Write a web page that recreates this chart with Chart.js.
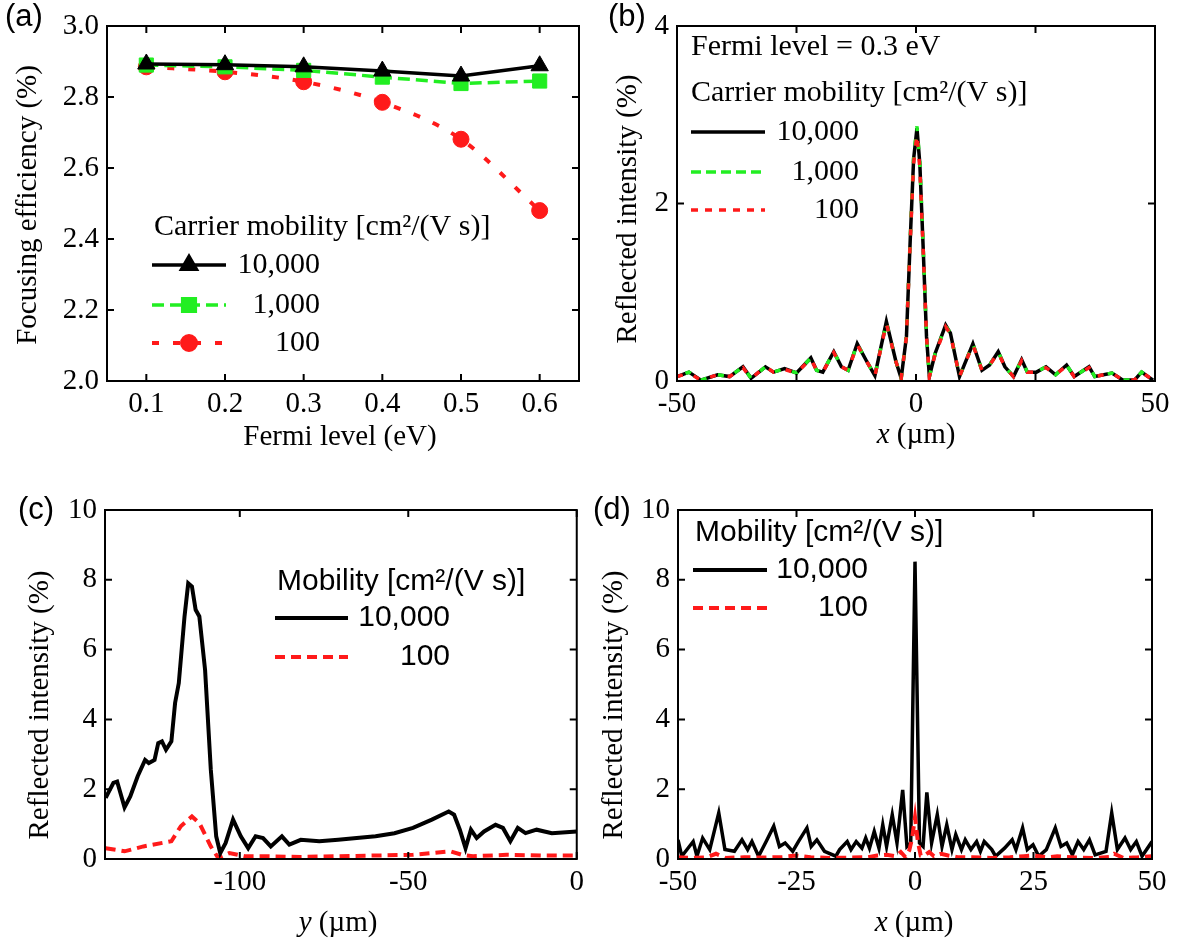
<!DOCTYPE html>
<html>
<head>
<meta charset="utf-8">
<script src="https://cdn.jsdelivr.net/npm/chart.js@4.4.1/dist/chart.umd.min.js"></script>
<style>
    html, body { margin: 0; padding: 0; background: #fff; }
    #page { position: relative; width: 1179px; height: 947px; overflow: hidden; }
    canvas { position: absolute; }
</style>
</head>
<body>
<div id="page">
    <canvas id="chartA" width="590" height="470" style="left:0;top:0"></canvas>
    <canvas id="chartB" width="589" height="470" style="left:590px;top:0"></canvas>
    <canvas id="chartC" width="590" height="477" style="left:0;top:470px"></canvas>
    <canvas id="chartD" width="589" height="477" style="left:590px;top:470px"></canvas>
</div>
<script>
// --- (a) focusing efficiency vs Fermi level ---
const fermiLevels = [0.1, 0.2, 0.3, 0.4, 0.5, 0.6];
const effMu10000 = [2.893, 2.891, 2.885, 2.873, 2.859, 2.888];
const effMu1000 = [2.890, 2.885, 2.875, 2.856, 2.838, 2.845];
const effMu100 = [2.885, 2.871, 2.843, 2.785, 2.681, 2.480];
const fermiTicks = [0.1, 0.2, 0.3, 0.4, 0.5, 0.6];
const effTicks = [2.0, 2.2, 2.4, 2.6, 2.8, 3.0];

// --- (b) reflected intensity along x, Fermi level 0.3 eV ---
const xB = [-50, -47.5, -45, -41.5, -39, -36.2, -34.5, -31.5, -29.8, -27.5, -25, -22, -20.8, -19.5, -17.2, -15.6, -14.2, -12.3, -10.3, -8.6,
    -6.2, -4.2, -3.1, -2.0, -1.2, -0.5, 0.2, 0.8, 1.5, 2.2, 2.8, 4.0, 6.2, 7.2, 9.1, 11.9, 13.8, 15.4, 17.2, 18.6,
    20.4, 22.1, 23.3, 25.2, 27.2, 29.2, 31.5, 33.1, 36.2, 37.4, 41, 43.3, 45.7, 47.2, 49.6];
const bMu10000 = [0.05, 0.10, 0.01, 0.07, 0.05, 0.16, 0.03, 0.16, 0.10, 0.14, 0.09, 0.26, 0.12, 0.10, 0.33, 0.16, 0.12, 0.42, 0.22, 0.06,
    0.67, 0.22, 0.03, 0.50, 1.60, 2.50, 2.85, 2.45, 1.50, 0.50, 0.05, 0.31, 0.63, 0.54, 0.05, 0.42, 0.12, 0.18, 0.33, 0.16,
    0.05, 0.24, 0.10, 0.10, 0.16, 0.07, 0.18, 0.05, 0.16, 0.05, 0.09, 0.01, 0.01, 0.10, 0.01];
const bMu1000 = [0.05, 0.10, 0.01, 0.07, 0.05, 0.16, 0.03, 0.16, 0.10, 0.14, 0.09, 0.26, 0.12, 0.10, 0.33, 0.16, 0.12, 0.42, 0.22, 0.06,
    0.66, 0.22, 0.03, 0.52, 1.62, 2.52, 2.87, 2.47, 1.52, 0.50, 0.05, 0.31, 0.62, 0.54, 0.05, 0.42, 0.12, 0.18, 0.33, 0.16,
    0.05, 0.24, 0.10, 0.10, 0.16, 0.07, 0.18, 0.05, 0.16, 0.05, 0.09, 0.01, 0.01, 0.10, 0.01];
const bMu100 = [0.05, 0.09, 0.01, 0.07, 0.05, 0.15, 0.03, 0.16, 0.10, 0.13, 0.09, 0.25, 0.12, 0.10, 0.32, 0.16, 0.12, 0.41, 0.22, 0.06,
    0.65, 0.22, 0.03, 0.50, 1.58, 2.45, 2.78, 2.40, 1.48, 0.50, 0.05, 0.30, 0.61, 0.53, 0.05, 0.41, 0.12, 0.18, 0.32, 0.16,
    0.05, 0.23, 0.10, 0.10, 0.15, 0.07, 0.17, 0.05, 0.15, 0.05, 0.09, 0.01, 0.01, 0.10, 0.01];
const xTicksB = [-50, -25, 0, 25, 50];
const xLabelsB = ['-50', '', '0', '', '50'];
const yTicksB = [0, 2, 4];

// --- (c) reflected intensity along y ---
const xC = [-139.8, -137.5, -136.4, -134.2, -132.5, -130.3, -128.1, -127, -125.3, -124.2, -123.1, -121.9, -120.3, -119.2, -118.1, -116.4,
    -115.3, -114.2, -113.1, -112, -110.3, -108.6, -107, -105.8, -104.2, -102, -99.7, -97.5, -95.3, -93.1, -90.8, -87.5, -85.3, -81.9,
    -76.4, -70.8, -65.3, -59.7, -54.1, -48.6, -43, -38, -36.4, -34.7, -33, -31.4, -29.7, -27.5, -24.1, -21.9, -19.7, -17.5, -15.2, -11.9, -7.4, 0];
const cMu10000 = [1.75, 2.18, 2.22, 1.48, 1.79, 2.37, 2.84, 2.75, 2.84, 3.32, 3.37, 3.13, 3.37, 4.47, 5.04, 6.95,
    7.90, 7.81, 7.14, 6.95, 5.42, 2.56, 0.65, 0.17, 0.46, 1.13, 0.65, 0.31, 0.65, 0.60, 0.36, 0.65, 0.41, 0.55,
    0.51, 0.55, 0.60, 0.65, 0.74, 0.89, 1.13, 1.36, 1.27, 0.84, 0.31, 0.84, 0.60, 0.79, 0.98, 0.89, 0.51, 0.89, 0.74, 0.84, 0.74, 0.79];
const xC100 = [-139.8, -134.2, -128.6, -120.3, -117.5, -114.2, -112, -108.6, -106.4, -103.1, -98.6, -93.1, -81.9, -70.8, -59.7, -48.6,
    -37.5, -34.1, -30.8, -20.8, -9.7, 0];
const cMu100 = [0.31, 0.22, 0.36, 0.51, 0.94, 1.22, 1.03, 0.36, 0.03, 0.17, 0.08, 0.08, 0.06, 0.08, 0.10, 0.12,
    0.22, 0.12, 0.08, 0.12, 0.10, 0.10];
const xTicksC = [-100, -50, 0];
const yTicksCD = [0, 2, 4, 6, 8, 10];

// --- (d) reflected intensity along x ---
const xD = [-50, -49.2, -46.8, -46, -44.8, -43.3, -41.4, -40.1, -38.1, -36.5, -35.3, -34.4, -33, -31.4, -29.8, -28.6, -27.4, -25.8, -24.6, -22.8,
    -21.9, -20.7, -19.1, -16.7, -15.9, -14.3, -13.5, -12.4, -11.2, -10.4, -9.6, -8.6, -7.6, -6.8, -6, -4.8, -3.8, -2.6, -1.7, -0.9,
    0, 0.95, 1.7, 2.5, 3.5, 4.7, 5.7, 6.7, 7.8, 8.6, 9.8, 10.6, 11.8, 13, 13.8, 14.6, 16.2, 17, 18.9, 20.5,
    21.3, 22.7, 23.7, 24.9, 26.1, 27.7, 29.6, 30.8, 32, 33.2, 34.4, 35.6, 36.8, 38, 40.3, 41.5, 42.7, 44.3, 45.5, 46.7, 47.9, 50];
const dMu10000 = [0.55, 0.08, 0.50, 0.08, 0.60, 0.27, 1.32, 0.27, 0.22, 0.55, 0.27, 0.50, 0.08, 0.50, 0.94, 0.36, 0.46, 0.22, 0.50, 0.89,
    0.36, 0.55, 0.22, 0.08, 0.27, 0.50, 0.27, 0.50, 0.31, 0.60, 0.31, 0.79, 0.31, 0.98, 0.36, 1.27, 0.46, 1.98, 0.36, 0.46,
    8.52, 0.46, 0.36, 1.91, 0.46, 1.27, 0.36, 0.98, 0.27, 0.70, 0.27, 0.55, 0.27, 0.50, 0.22, 0.50, 0.27, 0.08, 0.31, 0.55,
    0.27, 0.89, 0.27, 0.41, 0.08, 0.27, 0.89, 0.36, 0.46, 0.12, 0.50, 0.27, 0.55, 0.12, 0.22, 1.32, 0.27, 0.60, 0.27, 0.50, 0.08, 0.50];
const xD100 = [-50, -47, -44, -42, -40, -36, -32, -28, -25, -22, -18, -14, -10, -8, -6, -4, -3, -2, -1.2, -0.6,
    0, 0.6, 1.2, 2, 3, 4, 5.5, 7, 9, 12, 16, 20, 23, 25, 28, 30, 34, 38, 41, 42, 44, 47, 50];
const dMu100 = [0.05, 0.03, 0.05, 0.15, 0.03, 0.05, 0.04, 0.06, 0.10, 0.05, 0.03, 0.04, 0.05, 0.10, 0.12, 0.08, 0.20, 0.05, 0.25, 0.60,
    1.20, 0.50, 0.10, 0.10, 0.20, 0.08, 0.15, 0.10, 0.05, 0.05, 0.03, 0.05, 0.08, 0.10, 0.05, 0.08, 0.04, 0.03, 0.06, 0.15, 0.03, 0.05, 0.08];
const xTicksD = [-50, -25, 0, 25, 50];

const SERIF = '"Liberation Serif", "Times New Roman", serif';
const SANS = '"Liberation Sans", Arial, sans-serif';
const GREEN = '#22ee22';
const RED = '#ff1a1a';

Chart.defaults.font.family = SERIF;
Chart.defaults.color = '#000';

const pts = (xs, ys) => xs.map((x, i) => ({ x: x, y: ys[i] }));

function scaleOpts(min, max, tickList, fmt, fit, horizontal) {
    return {
        type: 'linear', min: min, max: max,
        grid: { display: false, drawTicks: false },
        border: { display: false },
        afterBuildTicks: s => { s.ticks = tickList.map(v => ({ value: v })); },
        afterFit: s => { if (horizontal) s.height = fit; else s.width = fit; },
        ticks: {
            font: { family: SERIF, size: 29 }, color: '#000',
            padding: horizontal ? 6 : 8, maxRotation: 0, autoSkip: false,
            callback: fmt
        }
    };
}

function richText(ctx, parts, font, cx, cy, rotate) {
    ctx.save();
    ctx.translate(cx, cy);
    if (rotate) ctx.rotate(-Math.PI / 2);
    ctx.textBaseline = 'middle';
    ctx.textAlign = 'left';
    let total = 0;
    const widths = parts.map(p => {
        ctx.font = (p.it ? 'italic ' : '') + font;
        const w = ctx.measureText(p.t).width;
        total += w;
        return w;
    });
    let xx = -total / 2;
    parts.forEach((p, i) => {
        ctx.font = (p.it ? 'italic ' : '') + font;
        ctx.fillText(p.t, xx, 0);
        xx += widths[i];
    });
    ctx.restore();
}

// frame with inward ticks, axis titles, panel tag and legend
function decor(cfg) {
    return {
        id: 'decor',
        afterDraw(chart) {
            const ctx = chart.ctx, a = chart.chartArea;
            const sx = chart.scales.x, sy = chart.scales.y;
            ctx.save();
            ctx.strokeStyle = '#000';
            ctx.lineWidth = 2;
            ctx.setLineDash([]);
            ctx.strokeRect(a.left, a.top, a.right - a.left, a.bottom - a.top);
            const t = 7;
            ctx.beginPath();
            sx.ticks.forEach(k => {
                const p = sx.getPixelForValue(k.value);
                ctx.moveTo(p, a.bottom); ctx.lineTo(p, a.bottom - t);
                ctx.moveTo(p, a.top); ctx.lineTo(p, a.top + t);
            });
            sy.ticks.forEach(k => {
                const p = sy.getPixelForValue(k.value);
                ctx.moveTo(a.left, p); ctx.lineTo(a.left + t, p);
                ctx.moveTo(a.right, p); ctx.lineTo(a.right - t, p);
            });
            ctx.stroke();

            ctx.fillStyle = '#000';
            const tf = '29px ' + SERIF;
            richText(ctx, cfg.xTitle, tf, cfg.xTitleAt[0], cfg.xTitleAt[1], false);
            richText(ctx, cfg.yTitle, tf, cfg.yTitleAt[0], cfg.yTitleAt[1], true);

            ctx.font = '31px ' + SANS;
            ctx.textAlign = 'left';
            ctx.textBaseline = 'middle';
            ctx.fillText(cfg.tag, cfg.tagAt[0], cfg.tagAt[1]);

            const lg = cfg.legend;
            ctx.font = lg.font;
            lg.heads.forEach(h => ctx.fillText(h.text, lg.left, h.y));
            lg.rows.forEach(r => {
                ctx.save();
                ctx.strokeStyle = r.color;
                ctx.lineWidth = r.width;
                ctx.setLineDash(r.dash || []);
                ctx.beginPath();
                ctx.moveTo(lg.x0, r.y);
                ctx.lineTo(lg.x1, r.y);
                ctx.stroke();
                ctx.restore();
                if (r.marker) {
                    ctx.fillStyle = r.color;
                    ctx.strokeStyle = r.color;
                    Chart.helpers.drawPoint(ctx, { pointStyle: r.marker, radius: r.radius, rotation: 0, borderWidth: 1 }, (lg.x0 + lg.x1) / 2, r.y);
                }
                ctx.fillStyle = '#000';
                ctx.font = lg.font;
                ctx.textAlign = 'right';
                ctx.fillText(r.label, lg.labelRight, r.y);
                ctx.textAlign = 'left';
            });
            ctx.restore();
        }
    };
}

const common = {
    responsive: false,
    animation: false,
    devicePixelRatio: 1,
    plugins: { legend: { display: false }, tooltip: { enabled: false } }
};

// (a)
new Chart(document.getElementById('chartA'), {
    type: 'line',
    data: {
        datasets: [
            { label: '10,000', data: pts(fermiLevels, effMu10000), borderColor: '#000', backgroundColor: '#000', borderWidth: 3.5,
              pointStyle: 'triangle', pointRadius: 10, pointBorderWidth: 1 },
            { label: '1,000', data: pts(fermiLevels, effMu1000), borderColor: GREEN, backgroundColor: GREEN, borderWidth: 3.5,
              borderDash: [12, 6], pointStyle: 'rect', pointRadius: 10, pointBorderWidth: 1 },
            { label: '100', data: pts(fermiLevels, effMu100), borderColor: RED, backgroundColor: RED, borderWidth: 4,
              borderDash: [7, 14], cubicInterpolationMode: 'monotone', pointStyle: 'circle', pointRadius: 8, pointBorderWidth: 1 }
        ]
    },
    options: Object.assign({}, common, {
        layout: { padding: { left: 0, top: 26, right: 4, bottom: 0 } },
        scales: {
            x: scaleOpts(0.05, 0.65, fermiTicks, v => v.toFixed(1), 89, true),
            y: scaleOpts(2.0, 3.0, effTicks, v => v.toFixed(1), 107, false)
        }
    }),
    plugins: [decor({
        xTitle: [{ t: 'Fermi level (eV)' }], xTitleAt: [340, 437],
        yTitle: [{ t: 'Focusing efficiency (%)' }], yTitleAt: [28, 205],
        tag: '(a)', tagAt: [5, 17],
        legend: {
            font: '30px ' + SERIF, left: 154, x0: 152, x1: 226, labelRight: 320,
            heads: [{ text: 'Carrier mobility [cm\u00B2/(V s)]', y: 227 }],
            rows: [
                { label: '10,000', y: 265, color: '#000', width: 3.5, marker: 'triangle', radius: 10 },
                { label: '1,000', y: 305, color: GREEN, width: 3.5, dash: [12, 6], marker: 'rect', radius: 10 },
                { label: '100', y: 343, color: RED, width: 4, dash: [7, 14], marker: 'circle', radius: 8 }
            ]
        }
    })]
});

// (b)
new Chart(document.getElementById('chartB'), {
    type: 'line',
    data: {
        datasets: [
            { label: '10,000', data: pts(xB, bMu10000), borderColor: '#000', borderWidth: 3.5, pointRadius: 0, order: 3 },
            { label: '1,000', data: pts(xB, bMu1000), borderColor: GREEN, borderWidth: 3.5, borderDash: [6, 12], borderDashOffset: 9, pointRadius: 0, order: 2 },
            { label: '100', data: pts(xB, bMu100), borderColor: RED, borderWidth: 3.5, borderDash: [6, 12], pointRadius: 0, order: 1 }
        ]
    },
    options: Object.assign({}, common, {
        layout: { padding: { left: 0, top: 26, right: 24, bottom: 0 } },
        scales: {
            x: scaleOpts(-50, 50, xTicksB, (v, i) => xLabelsB[i], 89, true),
            y: scaleOpts(0, 4, yTicksB, v => String(v), 87, false)
        }
    }),
    plugins: [decor({
        xTitle: [{ t: 'x', it: true }, { t: ' (\u00B5m)' }], xTitleAt: [326, 435],
        yTitle: [{ t: 'Reflected intensity (%)' }], yTitleAt: [38, 209],
        tag: '(b)', tagAt: [18, 17],
        legend: {
            font: '30px ' + SERIF, left: 101, x0: 101, x1: 175, labelRight: 269,
            heads: [{ text: 'Fermi level = 0.3 eV', y: 47 }, { text: 'Carrier mobility [cm\u00B2/(V s)]', y: 93 }],
            rows: [
                { label: '10,000', y: 132, color: '#000', width: 3.5 },
                { label: '1,000', y: 172, color: GREEN, width: 3.5, dash: [10, 5] },
                { label: '100', y: 210, color: RED, width: 3.5, dash: [7, 7] }
            ]
        }
    })]
});

// (c)
new Chart(document.getElementById('chartC'), {
    type: 'line',
    data: {
        datasets: [
            { label: '10,000', data: pts(xC, cMu10000), borderColor: '#000', borderWidth: 4, pointRadius: 0 },
            { label: '100', data: pts(xC100, cMu100), borderColor: RED, borderWidth: 4, borderDash: [10, 6], pointRadius: 0 }
        ]
    },
    options: Object.assign({}, common, {
        layout: { padding: { left: 0, top: 40, right: 11.5, bottom: 0 } },
        scales: {
            x: scaleOpts(-140, 0, xTicksC, v => String(v), 88, true),
            y: scaleOpts(0, 10, yTicksCD, v => String(v), 105, false)
        }
    }),
    plugins: [decor({
        xTitle: [{ t: 'y', it: true }, { t: ' (\u00B5m)' }], xTitleAt: [338, 453],
        yTitle: [{ t: 'Reflected intensity (%)' }], yTitleAt: [40, 235],
        tag: '(c)', tagAt: [18, 40],
        legend: {
            font: '30px ' + SANS, left: 277, x0: 275, x1: 348, labelRight: 450,
            heads: [{ text: 'Mobility [cm\u00B2/(V s)]', y: 112 }],
            rows: [
                { label: '10,000', y: 148, color: '#000', width: 4 },
                { label: '100', y: 187, color: RED, width: 4, dash: [10, 6] }
            ]
        }
    })]
});

// (d)
new Chart(document.getElementById('chartD'), {
    type: 'line',
    data: {
        datasets: [
            { label: '100', data: pts(xD100, dMu100), borderColor: RED, borderWidth: 4, borderDash: [10, 6], pointRadius: 0 },
            { label: '10,000', data: pts(xD, dMu10000), borderColor: '#000', borderWidth: 3.5, pointRadius: 0 }
        ]
    },
    options: Object.assign({}, common, {
        layout: { padding: { left: 0, top: 40, right: 27, bottom: 0 } },
        scales: {
            x: scaleOpts(-50, 50, xTicksD, v => String(v), 88, true),
            y: scaleOpts(0, 10, yTicksCD, v => String(v), 88, false)
        }
    }),
    plugins: [decor({
        xTitle: [{ t: 'x', it: true }, { t: ' (\u00B5m)' }], xTitleAt: [324, 453],
        yTitle: [{ t: 'Reflected intensity (%)' }], yTitleAt: [24, 235],
        tag: '(d)', tagAt: [3, 40],
        legend: {
            font: '30px ' + SANS, left: 105, x0: 103, x1: 177, labelRight: 278,
            heads: [{ text: 'Mobility [cm\u00B2/(V s)]', y: 63 }],
            rows: [
                { label: '10,000', y: 100, color: '#000', width: 4 },
                { label: '100', y: 138, color: RED, width: 4, dash: [10, 6] }
            ]
        }
    })]
});
</script>
</body>
</html>
